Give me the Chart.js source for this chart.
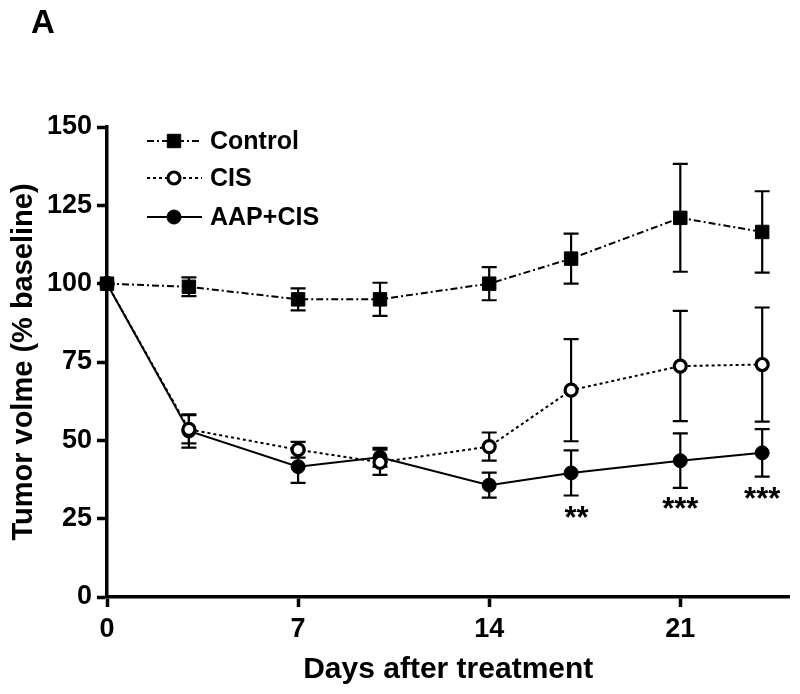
<!DOCTYPE html>
<html>
<head>
<meta charset="utf-8">
<script src="https://cdn.jsdelivr.net/npm/chart.js@4.4.1/dist/chart.umd.min.js"></script>
<style>
  html, body { margin: 0; padding: 0; background: #fff; }
  #wrap { width: 800px; height: 694px; position: relative; }
</style>
</head>
<body>
<div id="wrap"><canvas id="tumor"></canvas></div>
<script>
// datos
var days = [0, 3, 7, 10, 14, 17, 21, 24];
var controlMean = [100, 99, 95, 95, 100, 108, 121, 116.5];
var controlErr = [0, 3, 3.5, 5.3, 5.3, 8, 17.2, 13];
var cisMean = [100, 53.5, 47, 43, 48, 66, 73.7, 74.2];
var cisErr = [0, 4.5, 2.5, 4, 4.5, 16.3, 17.6, 18.2];
var aapMean = [100, 53, 41.6, 44.6, 35.7, 39.6, 43.5, 46];
var aapErr = [0, 5.3, 5.2, 3, 4, 7.2, 8.7, 7.6];
var xTicks = [0, 7, 14, 21];
var yTicks = [0, 25, 50, 75, 100, 125, 150];
var starLabels = ["**", "***", "***"];
var starX = [17.2, 21, 24];
var starY = [27, 29.9, 33.1];
var seriesNames = ["Control", "CIS", "AAP+CIS"];

function toPoints(means) {
  return days.map(function (d, i) { return { x: d, y: means[i] }; });
}

var errors = [controlErr, cisErr, aapErr];

// barras de error (debajo de los marcadores)
var errorBars = {
  id: "errorBars",
  beforeDatasetsDraw: function (chart) {
    var ctx = chart.ctx;
    var xs = chart.scales.x, ys = chart.scales.y;
    ctx.save();
    ctx.strokeStyle = "#000";
    ctx.lineWidth = 2.2;
    chart.data.datasets.forEach(function (ds, k) {
      ds.data.forEach(function (p, i) {
        var e = errors[k][i];
        if (!e) return;
        var px = xs.getPixelForValue(p.x);
        var top = ys.getPixelForValue(p.y + e);
        var bot = ys.getPixelForValue(p.y - e);
        ctx.beginPath();
        ctx.moveTo(px, top); ctx.lineTo(px, bot);
        ctx.moveTo(px - 7.5, top); ctx.lineTo(px + 7.5, top);
        ctx.moveTo(px - 7.5, bot); ctx.lineTo(px + 7.5, bot);
        ctx.stroke();
      });
    });
    ctx.restore();
  },
  afterDatasetsDraw: function (chart) {
    // asteriscos de significancia
    var ctx = chart.ctx;
    var xs = chart.scales.x, ys = chart.scales.y;
    ctx.save();
    ctx.fillStyle = "#000";
    ctx.font = "bold 31px 'Liberation Sans', Arial, sans-serif";
    ctx.textAlign = "center";
    ctx.textBaseline = "alphabetic";
    starLabels.forEach(function (s, i) {
      var m = ctx.measureText(s);
      var cy = ys.getPixelForValue(starY[i]);
      var base = cy + (m.actualBoundingBoxAscent - m.actualBoundingBoxDescent) / 2;
      ctx.fillText(s, xs.getPixelForValue(starX[i]), base);
    });
    ctx.restore();
  },
  afterDraw: function (chart) {
    // leyenda propia y letra del panel
    var ctx = chart.ctx;
    ctx.save();
    ctx.fillStyle = "#000";
    ctx.font = "bold 33px 'Liberation Sans', Arial, sans-serif";
    ctx.textAlign = "left";
    ctx.textBaseline = "alphabetic";
    ctx.fillText("A", 31, 33);

    var rows = [141, 178, 217];
    chart.data.datasets.forEach(function (ds, k) {
      var y = rows[k];
      ctx.strokeStyle = "#000";
      ctx.lineWidth = 2;
      ctx.setLineDash(ds.borderDash || []);
      ctx.beginPath();
      ctx.moveTo(147, y); ctx.lineTo(202, y);
      ctx.stroke();
      ctx.setLineDash([]);
      ctx.fillStyle = ds.pointBackgroundColor;
      ctx.strokeStyle = "#000";
      ctx.lineWidth = ds.pointBorderWidth;
      ctx.beginPath();
      if (ds.pointStyle === "rect") {
        var s = ds.pointRadius * Math.SQRT1_2;
        ctx.rect(174 - s, y - s, 2 * s, 2 * s);
      } else {
        ctx.arc(174, y, ds.pointRadius, 0, Math.PI * 2);
      }
      ctx.fill();
      ctx.stroke();
      ctx.fillStyle = "#000";
      ctx.font = "bold 25px 'Liberation Sans', Arial, sans-serif";
      ctx.textBaseline = "middle";
      ctx.fillText(seriesNames[k], 210, y + 1);
    });
    ctx.restore();
  }
};

var ctx = document.getElementById("tumor").getContext("2d");
var tumorChart = new Chart(ctx, {
  type: "line",
  data: {
    datasets: [
      {
        label: seriesNames[0],
        data: toPoints(controlMean),
        borderColor: "#000",
        borderWidth: 2,
        borderDash: [7, 3, 2, 3],
        pointStyle: "rect",
        pointRadius: 9.5,
        pointBorderWidth: 1,
        pointBackgroundColor: "#000",
        pointBorderColor: "#000",
        clip: false
      },
      {
        label: seriesNames[1],
        data: toPoints(cisMean),
        borderColor: "#000",
        borderWidth: 2,
        borderDash: [3, 3],
        pointStyle: "circle",
        pointRadius: 6,
        pointBorderWidth: 3.2,
        pointBackgroundColor: "#fff",
        pointBorderColor: "#000",
        clip: false
      },
      {
        label: seriesNames[2],
        data: toPoints(aapMean),
        borderColor: "#000",
        borderWidth: 2,
        pointStyle: "circle",
        pointRadius: 7,
        pointBorderWidth: 1,
        pointBackgroundColor: "#000",
        pointBorderColor: "#000",
        clip: false
      }
    ]
  },
  options: {
    responsive: true,
    maintainAspectRatio: false,
    animation: false,
    layout: { padding: { top: 127, right: 7, left: 0, bottom: 0 } },
    plugins: {
      legend: { display: false },
      tooltip: { enabled: false }
    },
    scales: {
      x: {
        type: "linear",
        min: 0,
        max: 25,
        afterBuildTicks: function (s) { s.ticks = xTicks.map(function (v) { return { value: v }; }); },
        afterFit: function (s) { s.height = 97; },
        grid: { drawOnChartArea: false, drawTicks: true, tickLength: 10, tickWidth: 3.5, tickColor: "#000" },
        border: { display: true, width: 3.5, color: "#000" },
        ticks: {
          color: "#000",
          padding: 6,
          maxRotation: 0,
          font: { family: "'Liberation Sans', Arial, sans-serif", size: 27, weight: "bold" }
        },
        title: {
          display: true,
          text: "Days after treatment",
          color: "#000",
          padding: { top: 0, bottom: 6 },
          font: { family: "'Liberation Sans', Arial, sans-serif", size: 30, weight: "bold" }
        }
      },
      y: {
        min: 0,
        max: 150,
        afterBuildTicks: function (s) { s.ticks = yTicks.map(function (v) { return { value: v }; }); },
        afterFit: function (s) { s.width = 107; },
        grid: { drawOnChartArea: false, drawTicks: true, tickLength: 10, tickWidth: 3.5, tickColor: "#000" },
        border: { display: true, width: 3.5, color: "#000" },
        ticks: {
          color: "#000",
          padding: 5,
          font: { family: "'Liberation Sans', Arial, sans-serif", size: 27, weight: "bold" }
        },
        title: {
          display: true,
          text: "Tumor volme (% baseline)",
          color: "#000",
          padding: { top: 7, bottom: 0 },
          font: { family: "'Liberation Sans', Arial, sans-serif", size: 29, weight: "bold" }
        }
      }
    }
  },
  plugins: [errorBars]
});
</script>
</body>
</html>
